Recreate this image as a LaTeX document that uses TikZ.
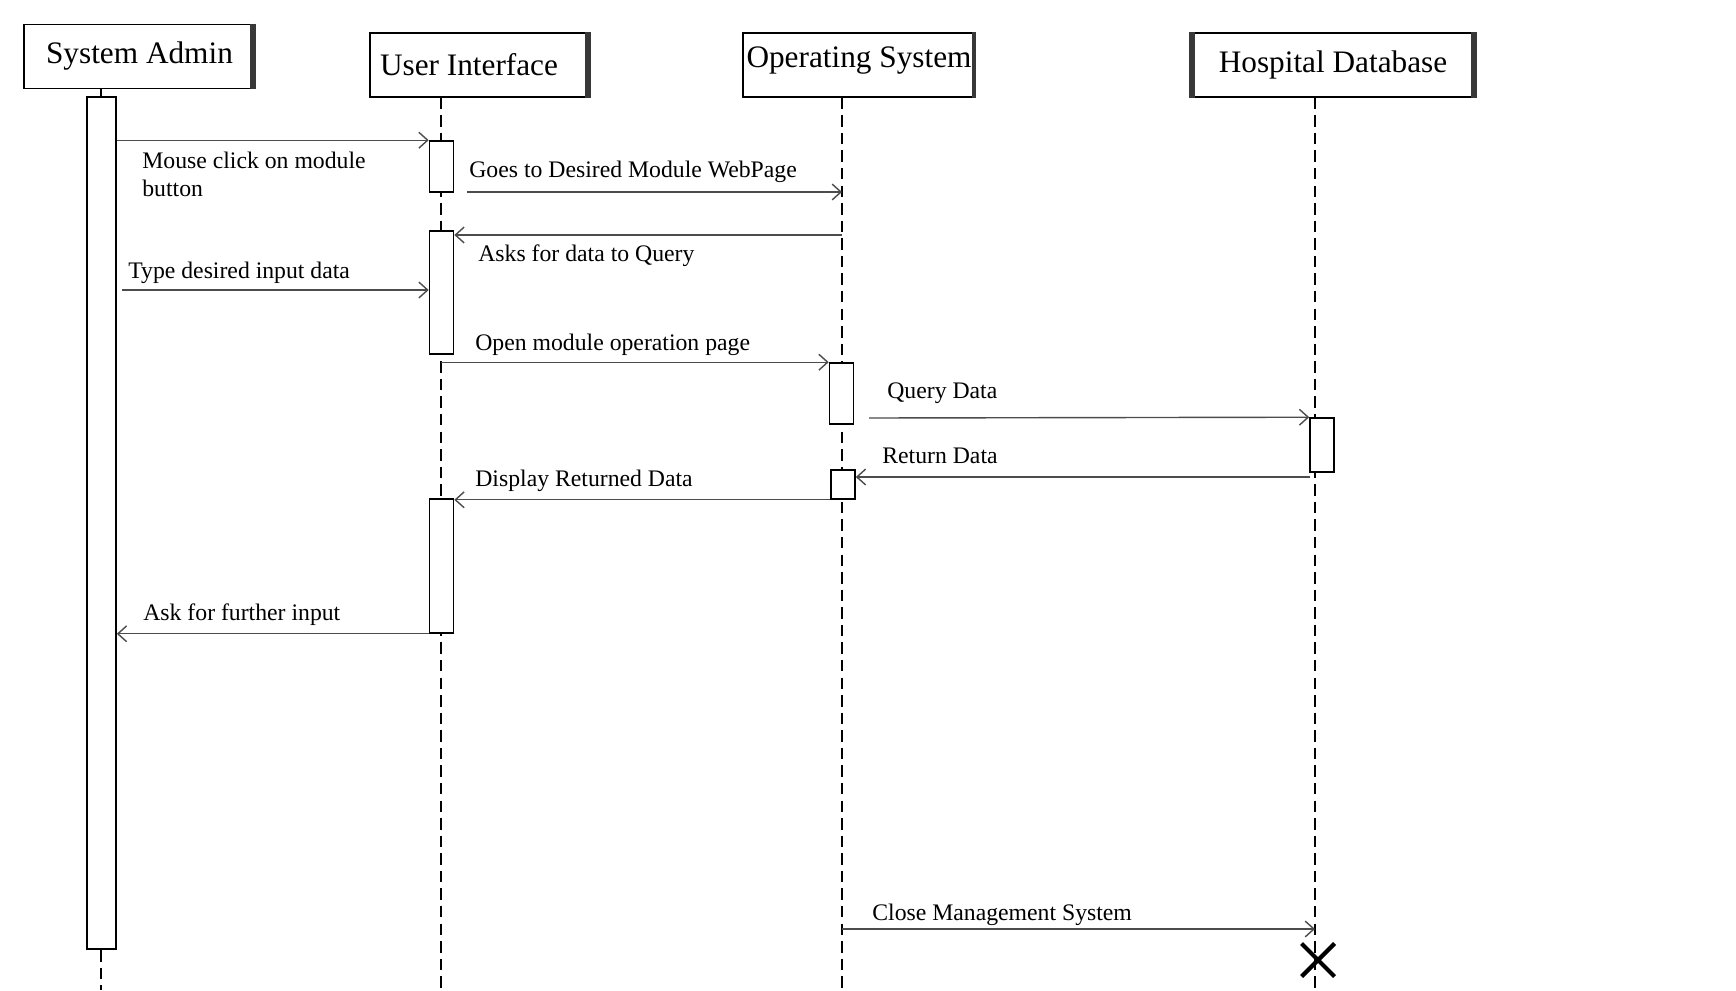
\documentclass[tikz,border=0pt]{standalone}
\usepackage{fontspec}
\setmainfont{Liberation Serif}
\usetikzlibrary{arrows.meta}

\definecolor{edgecolor}{rgb}{0.22,0.22,0.22}
\definecolor{msgcolor}{rgb}{0.30,0.30,0.30}

\begin{document}
\begin{tikzpicture}[
    x=0.02cm, y=-0.02cm,
    %% Lifelines:  x = 101  441  842  1315   (one unit = one pixel, y runs down)
    %% Headers:    y = 24 .. 97
    hdr/.style={draw, line width=0.9pt, minimum height=1.28cm, inner sep=0pt,
                font=\fontsize{17.8}{20}\selectfont},
    hedge/.style={draw=edgecolor, line width=3.2pt},
    act/.style={draw, line width=0.9pt, fill=white, minimum width=0.48cm,
                inner sep=0pt},
    life/.style={line width=0.8pt, dash pattern=on 6.5pt off 3.5pt},
    msg/.style={draw=msgcolor, line width=0.8pt,
                -{Straight Barb[length=5pt,width=9pt]}},
    lbl/.style={anchor=west, inner sep=0pt, align=left,
                font=\fontsize{13.5}{15.5}\selectfont},
]
\useasboundingbox (0,0) rectangle (1736,990);

%% ── Headers ──────────────────────────────────────────────────────────────
\node[hdr, minimum width=4.62cm] (sahd) at (139.5,56.5) {System Admin};
\node[hdr, minimum width=4.40cm] (uihd) at (480,65)
    {User Interface\hspace*{0.44cm}};
\node[hdr, minimum width=4.64cm, text depth=0.32cm] (oshd) at (859,65)
    {Operating System};
\node[hdr, minimum width=5.72cm] (dbhd) at (1333,65)    {Hospital Database};

\draw[hedge] ([xshift=-1.6pt]sahd.north east) -- ([xshift=-1.6pt]sahd.south east);
\draw[hedge] ([xshift=-1.6pt]uihd.north east) -- ([xshift=-1.6pt]uihd.south east);
\draw[hedge, line width=2pt]
             ([xshift=-1pt]oshd.north east) -- ([xshift=-1pt]oshd.south east);
\draw[hedge] ([xshift=1.6pt]dbhd.north west)  -- ([xshift=1.6pt]dbhd.south west);
\draw[hedge] ([xshift=-1.6pt]dbhd.north east) -- ([xshift=-1.6pt]dbhd.south east);

%% ── Lifelines ────────────────────────────────────────────────────────────
\coordinate (saend) at (101,990);
\coordinate (uiend) at (441,990);
\coordinate (osend) at (842,990);
\coordinate (dbend) at (1315,990);

\draw[life] (sahd.south -| saend) -- (saend);
\draw[life] (uihd.south -| uiend) -- (uiend);
\draw[life] (oshd.south -| osend) -- (osend);
\draw[life] (dbhd.south -| dbend) -- (dbend);

%% ── Activation bars ──────────────────────────────────────────────────────
\node[act, minimum width=0.58cm, minimum height=17.04cm] (sabar) at (101.5,523) {};
\node[act, minimum height=1.02cm] (ui1) at (441.5,166.5) {};
\node[act, minimum height=2.46cm] (ui2) at (441.5,292.5) {};
\node[act, minimum height=2.68cm] (ui3) at (441.5,566)   {};
\node[act, minimum height=1.22cm] (os1) at (841.5,393.5) {};
\node[act, minimum height=0.58cm] (os2) at (843,484.5)   {};
\node[act, minimum height=1.08cm] (db1) at (1322,445)    {};

%% ── Messages ─────────────────────────────────────────────────────────────
\draw[msg] (sabar.east |- ui1.north) -- (ui1.north west);
\node[lbl] (m1t) at (142,174.5) {Mouse click on module\\button};

\coordinate (m2) at (467,192);
\draw[msg] (m2) -- (m2 -| osend);
\node[lbl] (m2t) at (469,172) {Goes to Desired Module WebPage};

\coordinate (m3) at (842,235);
\draw[msg] (m3) -- (m3 -| ui2.east);
\node[lbl] (m3t) at (478,256) {Asks for data to Query};

\coordinate (m4) at (122,290);
\draw[msg] (m4) -- (m4 -| ui2.west);
\node[lbl] (m4t) at (128,273) {Type desired input data};

\draw[msg] (os1.north west -| uiend) -- (os1.north west);
\node[lbl] (m5t) at (475,345) {Open module operation page};

\coordinate (m6) at (869,418);
\draw[msg] (m6) -- (db1.north west);
\node[lbl] (m6t) at (887,393) {Query Data};

\coordinate (m7) at (1310,477);
\draw[msg] (m7) -- (m7 -| os2.east);
\node[lbl] (m7t) at (882,456) {Return Data};

\draw[msg] (os2.south west) -- (os2.south west -| ui3.east);
\node[lbl] (m8t) at (475,481) {Display Returned Data};

\draw[msg] (ui3.south west) -- (ui3.south west -| sabar.east);
\node[lbl] (m9t) at (143,615) {Ask for further input};

\coordinate (m10) at (842,929);
\draw[msg] (m10) -- (m10 -| dbend);
\node[lbl] (m10t) at (872,915) {Close Management System};

%% ── Destroy mark ─────────────────────────────────────────────────────────
\coordinate (dbx) at (1318,960);
\draw[line width=2.4pt]
    ([shift={(-0.33cm,-0.33cm)}]dbx) -- ([shift={(0.33cm,0.33cm)}]dbx)
    ([shift={(-0.33cm,0.33cm)}]dbx)  -- ([shift={(0.33cm,-0.33cm)}]dbx);

\end{tikzpicture}
\end{document}
